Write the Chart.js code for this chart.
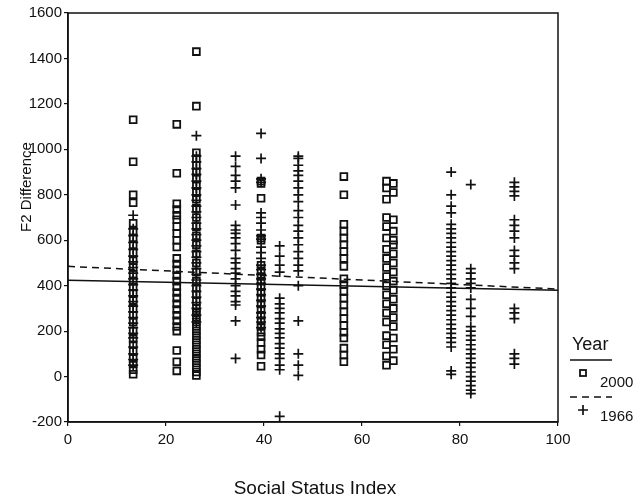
<!DOCTYPE html>
<html>
<head>
<meta charset="utf-8">
<script src="https://cdn.jsdelivr.net/npm/chart.js@4/dist/chart.umd.min.js"></script>
<style>
  html, body { margin:0; padding:0; background:#fff; }
  #wrap { width:637px; height:497px; position:relative; }
</style>
</head>
<body>
<div id="wrap"><canvas id="chart"></canvas></div>
<script>
// F2 difference by social status index, 2000 (squares) and 1966 (pluses)
const xTicks = [0, 20, 40, 60, 80, 100];
const yTicks = [-200, 0, 200, 400, 600, 800, 1000, 1200, 1400, 1600];

// 2000 speakers: [social status index, F2 values]
const sq13 = [1130, 945, 800, 765, 675, 640, 610, 580, 545, 510, 480, 450, 420, 395, 365, 335, 300, 270, 240, 200, 165, 140, 110, 80, 55, 30, 10];
const sq22 = [1110, 895, 760, 735, 710, 690, 660, 630, 600, 570, 520, 495, 470, 445, 420, 395, 370, 345, 320, 295, 270, 245, 220, 200, 115, 65, 25];
const sq26 = [1430, 1190, 985, 960, 930, 900, 870, 840, 810, 780, 740, 700, 660, 620, 580, 540, 500, 460, 420, 390, 360, 330, 300, 280, 260, 240, 220, 200, 180, 160, 140, 120, 100, 80, 60, 40, 20, 5];
const sq39 = [860, 850, 785, 610, 600, 490, 465, 440, 420, 395, 370, 345, 320, 295, 270, 245, 220, 195, 175, 150, 120, 95, 45];
const sq56 = [880, 800, 670, 640, 610, 580, 550, 520, 485, 430, 405, 375, 345, 315, 285, 255, 225, 195, 170, 125, 95, 65];
const sq65 = [860, 830, 780, 700, 660, 610, 560, 520, 480, 440, 400, 360, 320, 280, 240, 180, 140, 90, 50];
const sq66 = [850, 810, 690, 640, 600, 580, 540, 500, 460, 420, 380, 340, 300, 260, 220, 170, 120, 70];
const cols2000 = [[13.3, sq13], [22.2, sq22], [26.2, sq26], [39.4, sq39], [56.3, sq56], [65.0, sq65], [66.4, sq66]];

// 1966 speakers
const pl13 = [710, 650, 620, 590, 560, 530, 505, 480, 455, 430, 405, 380, 355, 330, 310, 285, 260, 235, 215, 190, 170, 130, 100, 75, 50];
const pl26 = [1060, 970, 945, 915, 890, 860, 830, 800, 775, 750, 725, 700, 675, 650, 625, 600, 575, 550, 525, 500, 475, 450, 425, 400, 375, 350, 325, 300, 270, 240];
const pl34 = [970, 925, 885, 860, 830, 755, 665, 645, 630, 610, 585, 555, 520, 500, 475, 455, 430, 400, 375, 355, 330, 315, 245, 80];
const pl39 = [1070, 960, 870, 855, 720, 700, 675, 645, 620, 605, 570, 545, 520, 490, 470, 450, 430, 410, 385, 360, 335, 310, 280, 260, 240, 215];
const pl43 = [575, 530, 490, 460, 345, 320, 300, 280, 255, 235, 210, 190, 170, 145, 125, 100, 80, 50, 30, -175];
const pl47 = [970, 960, 930, 905, 885, 860, 830, 800, 770, 730, 700, 665, 640, 610, 580, 550, 520, 490, 465, 400, 245, 100, 50, 5];
const pl78 = [900, 800, 750, 720, 670, 650, 630, 610, 590, 570, 550, 530, 510, 490, 470, 450, 430, 410, 390, 370, 350, 330, 310, 290, 270, 250, 230, 210, 190, 170, 150, 130, 25, 10];
const pl82 = [845, 475, 455, 430, 410, 390, 340, 300, 265, 220, 200, 180, 160, 140, 120, 100, 80, 60, 40, 20, 0, -20, -40, -60, -75];
const pl91 = [855, 835, 815, 795, 690, 665, 640, 610, 555, 530, 500, 475, 300, 280, 255, 100, 80, 55];
const cols1966 = [[13.3, pl13], [26.2, pl26], [34.2, pl34], [39.4, pl39], [43.2, pl43], [47.0, pl47], [78.2, pl78], [82.2, pl82], [91.1, pl91]];

// linear fits
const fitX = [0, 100];
const fit2000 = [424, 380];
const fit1966 = [485, 385];

const toPoints = cols => cols.flatMap(([x, ys]) => ys.map(y => ({ x, y })));
const FONT = "'Liberation Sans', Arial, sans-serif";
const INK = "#111";

const decor = {
  id: "decor",
  afterDraw(chart) {
    const { ctx, chartArea: a } = chart;
    ctx.save();
    ctx.strokeStyle = INK;
    ctx.lineWidth = 1.5;
    ctx.strokeRect(a.left, a.top, a.right - a.left, a.bottom - a.top);

    ctx.fillStyle = INK;
    ctx.textAlign = "center";
    ctx.textBaseline = "middle";
    ctx.font = "19px " + FONT;
    ctx.fillText("Social Status Index", 315, 489);
    ctx.save();
    ctx.translate(27, 187);
    ctx.rotate(-Math.PI / 2);
    ctx.font = "15px " + FONT;
    ctx.fillText("F2 Difference", 0, 0);
    ctx.restore();

    // legend
    ctx.textAlign = "left";
    ctx.textBaseline = "alphabetic";
    ctx.font = "18px " + FONT;
    ctx.fillText("Year", 572, 350);
    ctx.lineWidth = 1.5;
    ctx.beginPath(); ctx.moveTo(570, 360); ctx.lineTo(612, 360); ctx.stroke();
    ctx.lineWidth = 1.8;
    ctx.strokeRect(580, 370, 6, 6);
    ctx.font = "15px " + FONT;
    ctx.fillText("2000", 600, 387);
    ctx.lineWidth = 1.5;
    ctx.setLineDash([7, 5]);
    ctx.beginPath(); ctx.moveTo(570, 397); ctx.lineTo(612, 397); ctx.stroke();
    ctx.setLineDash([]);
    ctx.lineWidth = 1.7;
    ctx.beginPath();
    ctx.moveTo(578, 410); ctx.lineTo(588, 410);
    ctx.moveTo(583, 405); ctx.lineTo(583, 415);
    ctx.stroke();
    ctx.fillText("1966", 600, 421);
    ctx.restore();
  }
};

const axisTicks = { color: INK, font: { family: FONT, size: 15 }, callback: v => String(v) };
const axisGrid = { drawOnChartArea: false, drawTicks: true, tickLength: 4, color: INK, lineWidth: 1.2 };

new Chart(document.getElementById("chart"), {
  type: "scatter",
  data: {
    datasets: [
      { label: "2000 fit", type: "line", data: fitX.map((x, i) => ({ x, y: fit2000[i] })),
        borderColor: INK, borderWidth: 1.5, pointRadius: 0, fill: false },
      { label: "1966 fit", type: "line", data: fitX.map((x, i) => ({ x, y: fit1966[i] })),
        borderColor: INK, borderWidth: 1.5, borderDash: [7, 5], pointRadius: 0, fill: false },
      { label: "2000", data: toPoints(cols2000), pointStyle: "rect", pointRadius: 4.8,
        borderColor: INK, borderWidth: 1.8, backgroundColor: "rgba(0,0,0,0)" },
      { label: "1966", data: toPoints(cols1966), pointStyle: "cross", pointRadius: 5,
        borderColor: INK, borderWidth: 1.7 }
    ]
  },
  options: {
    responsive: true, maintainAspectRatio: false, animation: false,
    layout: { padding: { top: 13, right: 79, bottom: 0, left: 0 } },
    plugins: { legend: { display: false }, tooltip: { enabled: false } },
    scales: {
      x: { type: "linear", min: xTicks[0], max: xTicks[xTicks.length - 1],
        afterBuildTicks: s => { s.ticks = xTicks.map(v => ({ value: v })); },
        ticks: { ...axisTicks, padding: 5, maxRotation: 0 },
        grid: axisGrid, border: { color: INK, width: 1.5 },
        afterFit: s => { s.height = 75; } },
      y: { min: yTicks[0], max: yTicks[yTicks.length - 1],
        afterBuildTicks: s => { s.ticks = yTicks.map(v => ({ value: v })); },
        ticks: { ...axisTicks, padding: 2 },
        grid: axisGrid, border: { color: INK, width: 1.5 },
        afterFit: s => { s.width = 68; } }
    }
  },
  plugins: [decor]
});
</script>
</body>
</html>
